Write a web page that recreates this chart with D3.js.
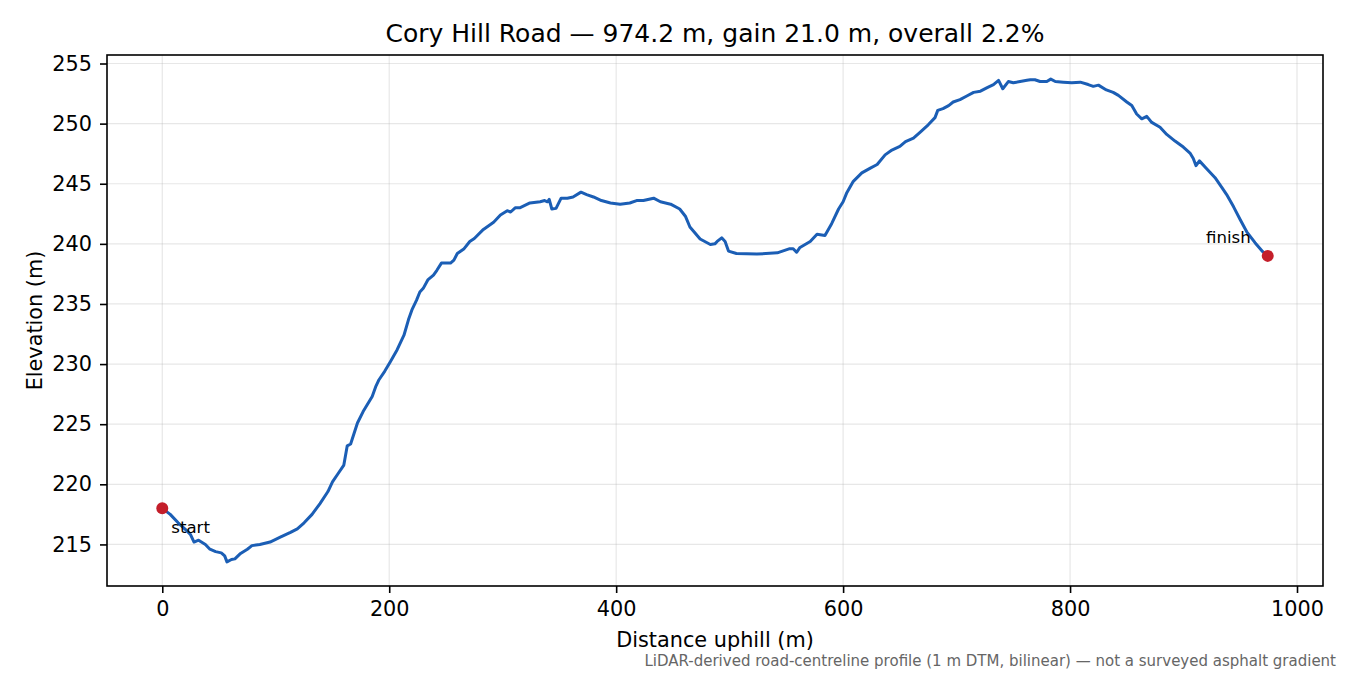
<!DOCTYPE html>
<html lang="en">
<head>
<meta charset="UTF-8">
<title>Cory Hill Road profile</title>
<style>
    body { margin: 0; background: #fff; }
    text { font-family: "DejaVu Sans", sans-serif; fill: #000; }
    .grid line { stroke: #b0b0b0; stroke-opacity: 0.3; stroke-width: 1.2; }
    .axis path, .axis line { stroke: #000; stroke-width: 1.6; }
    .axis text { font-size: 20.8px; }
    .profile { fill: none; stroke: #1b5eb5; stroke-width: 3; stroke-linejoin: round; }
</style>
</head>
<body>
<svg id="chart" width="1350" height="675"></svg>
<script src="https://cdn.jsdelivr.net/npm/d3@7"></script>
<script>

// distance along road (m)
let distance = [0, 7, 14, 22, 25, 28, 32, 38, 42, 47, 52, 55, 57, 61, 64, 69, 75, 79, 86, 95,
    104, 113, 119, 125, 132, 139, 146, 150, 155, 160, 163, 166, 172, 177, 185, 188, 191, 196,
    201, 207, 213, 217, 220, 224, 227, 230, 234, 239, 242, 246, 254, 257, 260, 266, 271, 275,
    283, 292, 298, 304, 307, 311, 315, 324, 333, 337, 339.5, 341, 343.3, 347, 351.5, 357, 362,
    369, 374, 380, 387, 395, 403.5, 412, 418, 424, 433, 439, 448, 456, 461, 465, 474, 483, 487,
    489, 493, 496, 499, 506, 524, 542, 553, 556, 559, 562, 571, 577, 584, 590, 596, 600, 603,
    609, 616.5, 624, 630, 637, 643, 650, 655, 662, 668, 675, 681, 683.4, 688, 693, 697, 703,
    709, 715, 721, 727, 732.5, 737, 740.7, 745.6, 750, 756, 762, 765, 769, 773.6, 779.5, 783,
    787, 794, 801.5, 809, 816, 820.5, 825, 832, 838, 842.6, 850, 854.4, 858.7, 863.2, 867.6,
    872, 879.3, 885.2, 892.5, 899.8, 905.7, 908.6, 911, 914, 920.4, 927.8, 933.7, 938, 944,
    950, 955.7, 963, 969.8, 974.2]

// elevation (m)
let elevation = [218.0, 217.5, 216.8, 216.1, 215.8, 215.2, 215.35, 215.0, 214.6, 214.4, 214.3,
    214.05, 213.55, 213.75, 213.8, 214.25, 214.6, 214.9, 215.0, 215.2,
    215.6, 216.0, 216.3, 216.8, 217.5, 218.4, 219.4, 220.2, 220.9, 221.6, 223.2, 223.35, 225.1,
    226.05, 227.3, 228.1, 228.7, 229.4,
    230.2, 231.2, 232.4, 233.7, 234.5, 235.3, 236.0, 236.3, 237.0, 237.4, 237.8, 238.4, 238.4,
    238.65, 239.2, 239.6, 240.2, 240.45,
    241.2, 241.8, 242.4, 242.75, 242.65, 243.0, 243.0, 243.4, 243.5, 243.6, 243.5, 243.7, 242.9,
    242.95, 243.8, 243.8, 243.9,
    244.3, 244.1, 243.9, 243.6, 243.4, 243.3, 243.4, 243.6, 243.6, 243.8, 243.5, 243.3, 242.9,
    242.3, 241.4, 240.4, 239.95, 240.0,
    240.2, 240.5, 240.2, 239.4, 239.2, 239.15, 239.25, 239.6, 239.6, 239.3, 239.7, 240.2, 240.8,
    240.7, 241.7, 242.9, 243.5, 244.2,
    245.2, 245.9, 246.3, 246.6, 247.4, 247.8, 248.1, 248.5, 248.8, 249.3, 249.9, 250.5, 251.1,
    251.25, 251.5, 251.8, 252.0,
    252.3, 252.6, 252.7, 253.0, 253.25, 253.6, 252.9, 253.5, 253.4, 253.5, 253.6, 253.65, 253.65,
    253.5, 253.5, 253.7,
    253.5, 253.45, 253.4, 253.45, 253.25, 253.1, 253.2, 252.8, 252.6, 252.35, 251.8, 251.5, 250.8,
    250.4, 250.6,
    250.1, 249.7, 249.1, 248.55, 248.05, 247.55, 247.1, 246.5, 246.9, 246.25, 245.5, 244.7, 244.1,
    243.1,
    242.0, 241.0, 240.1, 239.35, 239.0]

let xTicks = [0, 200, 400, 600, 800, 1000]
let yTicks = [215, 220, 225, 230, 235, 240, 245, 250, 255]
let endLabels = ["start", "finish"]

let titleText = "Cory Hill Road \u2014 974.2 m, gain 21.0 m, overall 2.2%"
let footnote = "LiDAR-derived road-centreline profile (1 m DTM, bilinear) \u2014 not a surveyed asphalt gradient"

let mLeft = 107, mTop = 55, mRight = 1323, mBottom = 586
let bodyWidth = mRight - mLeft
let bodyHeight = mBottom - mTop

let data = distance.map((d, i) => ({ dist: d, elev: elevation[i] }))

// matplotlib-style 5% padding
function padded(ext) {
    let m = (ext[1] - ext[0]) * 0.05
    return [ext[0] - m, ext[1] + m]
}

let xScale = d3.scaleLinear()
    .domain(padded(d3.extent(distance)))
    .range([0, bodyWidth])
let yScale = d3.scaleLinear()
    .domain(padded(d3.extent(elevation)))
    .range([bodyHeight, 0])

let svg = d3.select("#chart")
let body = svg.append("g").attr("transform", "translate(" + mLeft + "," + mTop + ")")

// grid
body.append("g").attr("class", "grid")
    .selectAll("line").data(xTicks).join("line")
    .attr("x1", d => xScale(d)).attr("x2", d => xScale(d))
    .attr("y1", 0).attr("y2", bodyHeight)
body.append("g").attr("class", "grid")
    .selectAll("line").data(yTicks).join("line")
    .attr("x1", 0).attr("x2", bodyWidth)
    .attr("y1", d => yScale(d)).attr("y2", d => yScale(d))

// profile line
body.append("path")
    .datum(data)
    .attr("class", "profile")
    .attr("d", d3.line().x(d => xScale(d.dist)).y(d => yScale(d.elev)))

// start / finish markers
let ends = [data[0], data[data.length - 1]]
body.selectAll("circle.end").data(ends).join("circle")
    .attr("class", "end")
    .attr("cx", d => xScale(d.dist))
    .attr("cy", d => yScale(d.elev))
    .attr("r", 6)
    .attr("fill", "#c41e2a")

body.append("text")
    .attr("x", xScale(ends[0].dist) + 9)
    .attr("y", yScale(ends[0].elev) + 25)
    .style("font-size", "16.6px")
    .text(endLabels[0])
body.append("text")
    .attr("x", xScale(ends[1].dist) - 17)
    .attr("y", yScale(ends[1].elev) - 13)
    .attr("text-anchor", "end")
    .style("font-size", "16.6px")
    .text(endLabels[1])

// axes
let xAxis = body.append("g").attr("class", "axis")
    .attr("transform", "translate(0," + bodyHeight + ")")
    .call(d3.axisBottom(xScale).tickValues(xTicks).tickSize(7).tickPadding(8.5).tickFormat(d3.format("d")))
xAxis.select(".domain").remove()

let yAxis = body.append("g").attr("class", "axis")
    .call(d3.axisLeft(yScale).tickValues(yTicks).tickSize(7).tickPadding(8).tickFormat(d3.format("d")))
yAxis.select(".domain").remove()

// frame
body.append("rect")
    .attr("width", bodyWidth).attr("height", bodyHeight)
    .attr("fill", "none").attr("stroke", "#000").attr("stroke-width", 1.6)

// titles
svg.append("text")
    .attr("x", mLeft + bodyWidth / 2).attr("y", 42)
    .attr("text-anchor", "middle")
    .style("font-size", "25px")
    .text(titleText)

svg.append("text")
    .attr("x", mLeft + bodyWidth / 2).attr("y", 646.5)
    .attr("text-anchor", "middle")
    .style("font-size", "20.8px")
    .text("Distance uphill (m)")

svg.append("text")
    .attr("transform", "translate(42," + (mTop + bodyHeight / 2) + ") rotate(-90)")
    .attr("text-anchor", "middle")
    .style("font-size", "20.8px")
    .text("Elevation (m)")

svg.append("text")
    .attr("x", 1336).attr("y", 665.5)
    .attr("text-anchor", "end")
    .style("font-size", "15px")
    .style("fill", "#666")
    .text(footnote)

</script>
</body>
</html>
